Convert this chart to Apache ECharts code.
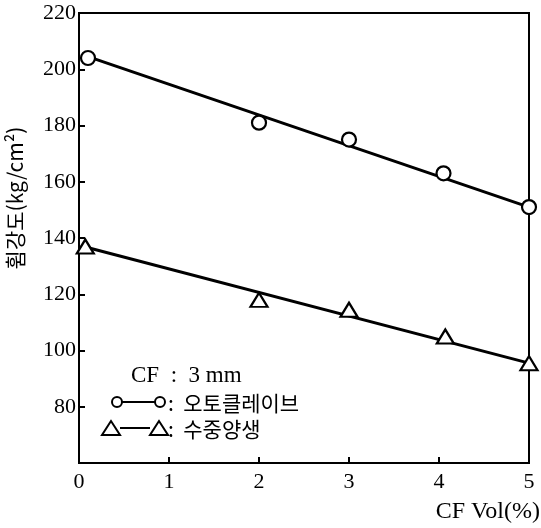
<!DOCTYPE html>
<html>
<head>
<meta charset="utf-8">
<script src="https://cdn.jsdelivr.net/npm/echarts@6/dist/echarts.min.js"></script>
<style>html,body{margin:0;padding:0;background:#fff;}#c{width:541px;height:528px;}</style>
</head>
<body>
<div id="c"></div>
<script>
// Data
const autoclaveX = [0.1, 2, 3, 4.05, 5];
const autoclaveY = [204, 181, 175, 163, 151];
const waterX = [0.07, 2, 3, 4.07, 5];
const waterY = [137, 118, 114.5, 105, 95.5];
const autoclaveFitX = [0.1, 5];
const autoclaveFitY = [204.5, 151];
const waterFitX = [0.05, 5];
const waterFitY = [137, 95.5];
const xTicks = [0, 1, 2, 3, 4, 5];
const yTicks = [80, 100, 120, 140, 160, 180, 200, 220];

const pairs = (xs, ys) => xs.map((x, i) => [x, ys[i]]);
const serif = '"Liberation Serif","DejaVu Serif",serif';
const kr = '"Noto Sans CJK KR","Noto Sans",sans-serif';

const chart = echarts.init(document.getElementById('c'), null, {renderer: 'canvas'});
chart.setOption({
  animation: false,
  backgroundColor: '#fff',
  grid: {left: 79, right: 12, top: 13, bottom: 65, show: true, borderColor: '#000', borderWidth: 2},
  xAxis: {
    type: 'value', min: 0, max: 5, interval: 1,
    axisLine: {lineStyle: {color: '#000', width: 2}},
    axisTick: {inside: true, length: 6, lineStyle: {color: '#000', width: 2}},
    axisLabel: {color: '#000', fontFamily: serif, fontSize: 22, margin: 8,
      formatter: v => xTicks.includes(v) ? String(v) : ''},
    splitLine: {show: false}
  },
  yAxis: {
    type: 'value', min: 60, max: 220, interval: 20,
    axisLine: {lineStyle: {color: '#000', width: 2}},
    axisTick: {inside: true, length: 6, lineStyle: {color: '#000', width: 2}},
    axisLabel: {color: '#000', fontFamily: serif, fontSize: 22, margin: 3,
      formatter: v => yTicks.includes(v) ? String(v) : ''},
    splitLine: {show: false}
  },
  series: [
    {type: 'line', data: pairs(autoclaveFitX, autoclaveFitY), symbol: 'none',
     lineStyle: {color: '#000', width: 3}, z: 2},
    {type: 'line', data: pairs(waterFitX, waterFitY), symbol: 'none',
     lineStyle: {color: '#000', width: 3}, z: 2},
    {type: 'scatter', data: pairs(autoclaveX, autoclaveY), symbol: 'circle', symbolSize: 14,
     itemStyle: {color: '#fff', borderColor: '#000', borderWidth: 2.2, opacity: 1}, z: 3},
    {type: 'scatter', data: pairs(waterX, waterY), symbol: 'triangle', symbolSize: [17, 14],
     itemStyle: {color: '#fff', borderColor: '#000', borderWidth: 2.2, opacity: 1}, z: 3}
  ],
  graphic: [
    {type: 'text', x: 15, y: 198, rotation: Math.PI / 2,
     style: {text: '휨강도(kg/cm²)', font: '21px ' + kr, fill: '#000', align: 'center', verticalAlign: 'middle'}},
    {type: 'text', right: 1, top: 500,
     style: {text: 'CF Vol(%)', font: '24px ' + serif, fill: '#000'}},
    {type: 'text', x: 131, y: 376,
     style: {text: 'CF  :  3 mm', font: '23px ' + serif, fill: '#000', verticalAlign: 'middle'}},
    {type: 'line', shape: {x1: 122, y1: 402, x2: 155, y2: 402}, style: {stroke: '#000', lineWidth: 2}},
    {type: 'circle', shape: {cx: 117, cy: 402, r: 5}, style: {fill: '#fff', stroke: '#000', lineWidth: 2}},
    {type: 'circle', shape: {cx: 160, cy: 402, r: 5}, style: {fill: '#fff', stroke: '#000', lineWidth: 2}},
    {type: 'text', x: 168, y: 403,
     style: {text: ':  오토클레이브', font: '21px ' + kr, fill: '#000', verticalAlign: 'middle'}},
    {type: 'line', shape: {x1: 120, y1: 428, x2: 150, y2: 428}, style: {stroke: '#000', lineWidth: 2}},
    {type: 'polygon', shape: {points: [[111, 421], [102, 435], [120, 435]]}, style: {fill: '#fff', stroke: '#000', lineWidth: 2}},
    {type: 'polygon', shape: {points: [[159, 421], [150, 435], [168, 435]]}, style: {fill: '#fff', stroke: '#000', lineWidth: 2}},
    {type: 'text', x: 168, y: 429,
     style: {text: ':  수중양생', font: '21px ' + kr, fill: '#000', verticalAlign: 'middle'}}
  ]
});
</script>
</body>
</html>
